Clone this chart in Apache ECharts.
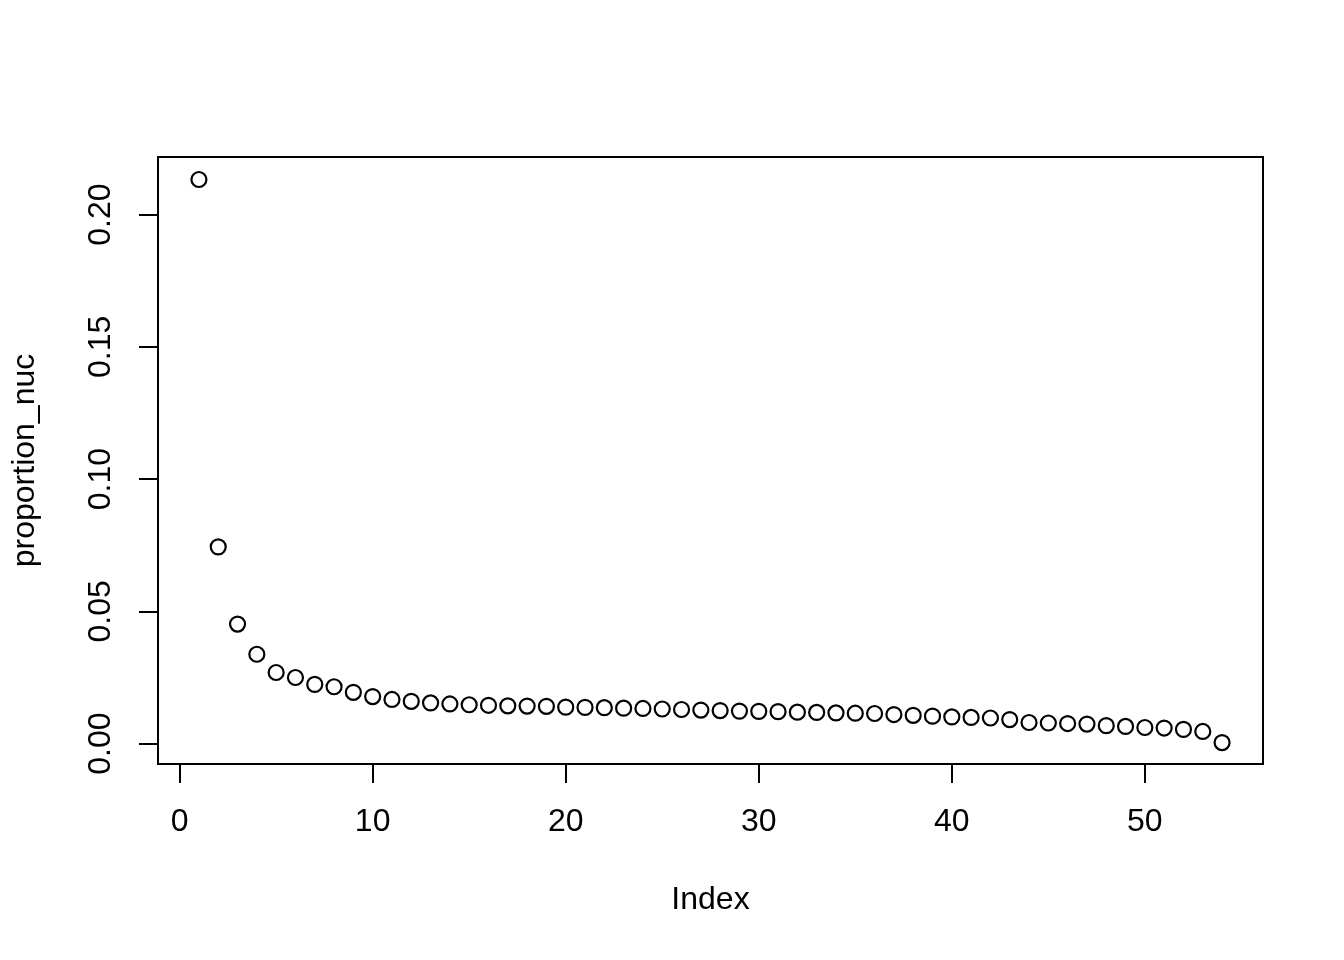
<!DOCTYPE html>
<html>
<head>
<meta charset="utf-8">
<script src="https://cdn.jsdelivr.net/npm/echarts@6/dist/echarts.min.js"></script>
<style>
  html, body { margin: 0; padding: 0; background: #fff; }
  #chart { width: 1344px; height: 960px; }
</style>
</head>
<body>
<div id="chart"></div>
<script>
// values, index 1..54
const proportionNuc = [
  0.2133, 0.0744, 0.0452, 0.0338, 0.0269, 0.0250, 0.0224, 0.0215, 0.0194, 0.0178,
  0.0167, 0.0160, 0.0154, 0.0150, 0.0147, 0.0145, 0.0143, 0.0142, 0.0141, 0.0138,
  0.0137, 0.0136, 0.0134, 0.0133, 0.0131, 0.0129, 0.0127, 0.0125, 0.0123, 0.0122,
  0.0121, 0.0119, 0.0118, 0.0116, 0.0115, 0.0114, 0.0110, 0.0107, 0.0104, 0.0101,
  0.0099, 0.0097, 0.0091, 0.0080, 0.0078, 0.0076, 0.0074, 0.0068, 0.0065, 0.0061,
  0.0059, 0.0054, 0.0046, 0.0004
];
const xTicks = [0, 10, 20, 30, 40, 50];
const yTicks = [0, 0.05, 0.10, 0.15, 0.20];

const points = proportionNuc.map((v, i) => [i + 1, v]);

const chart = echarts.init(document.getElementById('chart'));
const font = 'Liberation Sans, Arial, Helvetica, sans-serif';

chart.setOption({
  backgroundColor: '#fff',
  animation: false,
  grid: {
    left: 158, top: 157, width: 1105, height: 607,
    show: true, borderColor: '#000', borderWidth: 2, backgroundColor: 'transparent'
  },
  xAxis: {
    type: 'value',
    min: -1.12, max: 56.12,
    name: 'Index',
    nameLocation: 'middle',
    nameGap: 120,
    nameTextStyle: { color: '#000', fontSize: 32, fontFamily: font },
    axisLine: { show: true, onZero: false, lineStyle: { color: '#000', width: 2 } },
    splitLine: { show: false },
    axisTick: { show: true, inside: false, length: 19, customValues: xTicks, lineStyle: { color: '#000', width: 2 } },
    axisLabel: {
      customValues: xTicks, margin: 42, color: '#000', fontSize: 32, fontFamily: font,
      formatter: v => String(v)
    }
  },
  yAxis: {
    type: 'value',
    min: -0.0077, max: 0.2218,
    name: 'proportion_nuc',
    nameLocation: 'middle',
    nameGap: 117,
    nameTextStyle: { color: '#000', fontSize: 32, fontFamily: font },
    axisLine: { show: true, onZero: false, lineStyle: { color: '#000', width: 2 } },
    splitLine: { show: false },
    axisTick: { show: true, inside: false, length: 19, customValues: yTicks, lineStyle: { color: '#000', width: 2 } },
    axisLabel: {
      customValues: yTicks, rotate: 90, margin: 41, color: '#000', fontSize: 32, fontFamily: font,
      formatter: v => v.toFixed(2)
    }
  },
  series: [{
    type: 'scatter',
    data: points,
    symbol: 'circle',
    symbolSize: 15,
    itemStyle: { color: 'transparent', borderColor: '#000', borderWidth: 2.2, opacity: 1 }
  }]
});
</script>
</body>
</html>
